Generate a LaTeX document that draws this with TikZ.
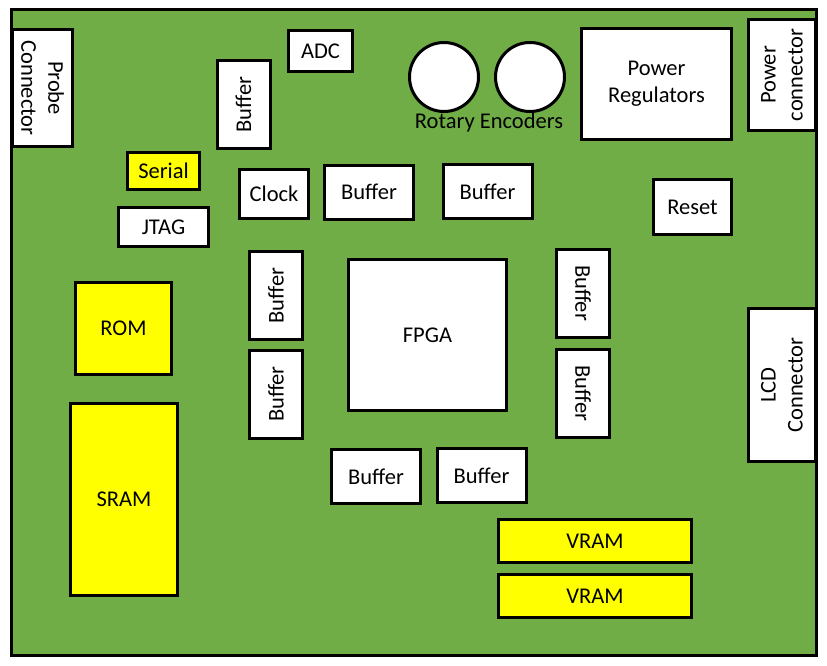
\documentclass[tikz,border=0pt]{standalone}
\usepackage{fontspec}
\setmainfont{Carlito}
\definecolor{boardgreen}{RGB}{112,173,71}
\definecolor{chipyellow}{RGB}{255,255,0}

\begin{document}
\begin{tikzpicture}[x=1pt, y=-1pt,
    part/.style={draw, line width=3pt, fill=white, inner sep=0pt, align=center, font=\fontsize{22.5}{27}\selectfont},
    mem/.style={part, fill=chipyellow}]
\useasboundingbox (0,0) rectangle (827,666);
% the board
\draw [line width=3pt, fill=boardgreen] (11.5,10) rectangle (816.5,655.5);
% connectors on the edges
\node [part, rotate=-90, minimum width=117, minimum height=60] (probe) at (42.5,88) {Probe\\Connector};
\node [part, rotate=90, minimum width=111, minimum height=67] (pwrconn) at (782,75) {Power\\connector};
\node [part, rotate=90, minimum width=153, minimum height=67] (lcd) at (782,385) {LCD\\Connector};
% small parts
\node [part, minimum width=64, minimum height=41] (adc) at (320.5,51) {ADC};
\node [part, minimum width=90, minimum height=39] (jtag) at (163.5,227) {JTAG};
\node [part, minimum width=69, minimum height=49] (clock) at (274,194) {Clock};
\node [part, minimum width=78, minimum height=55] (reset) at (692.5,207) {Reset};
\node [part, minimum width=150, minimum height=111] (regs) at (656.5,84) {Power\\Regulators};
\node [part, minimum width=158, minimum height=151] (fpga) at (427.5,335) {FPGA};
% rotary encoders
\foreach \n/\x in {1/444, 2/530} {
    \node [part, circle, minimum size=69] (enc\n) at (\x,77) {};
}
\node [font=\fontsize{22.5}{27}\selectfont] (enclabel) at (489,123) {Rotary Encoders};
% buffers lying flat
\foreach \n/\x/\y in {a/369/192, b/487.5/191.5, c/376/476.5, d/481.5/475.5} {
    \node [part, minimum width=89, minimum height=54] (buf\n) at (\x,\y) {Buffer};
}
% buffers standing up
\foreach \n/\x/\y/\r in {e/243.5/104.5/90, f/276/295.5/90, g/276/394/90, h/583/293/-90, i/583/393.5/-90} {
    \node [part, rotate=\r, minimum width=88, minimum height=53] (buf\n) at (\x,\y) {Buffer};
}
% memories
\node [mem, minimum width=72, minimum height=37] (serial) at (163.5,171) {Serial};
\node [mem, minimum width=96, minimum height=92] (rom) at (123.5,328.5) {ROM};
\node [mem, minimum width=107, minimum height=192] (sram) at (124,499.5) {SRAM};
\node [mem, minimum width=193, minimum height=43] (vrama) at (595,541) {VRAM};
\node [mem, minimum width=193, minimum height=43] (vramb) at (595,596) {VRAM};
\end{tikzpicture}
\end{document}
